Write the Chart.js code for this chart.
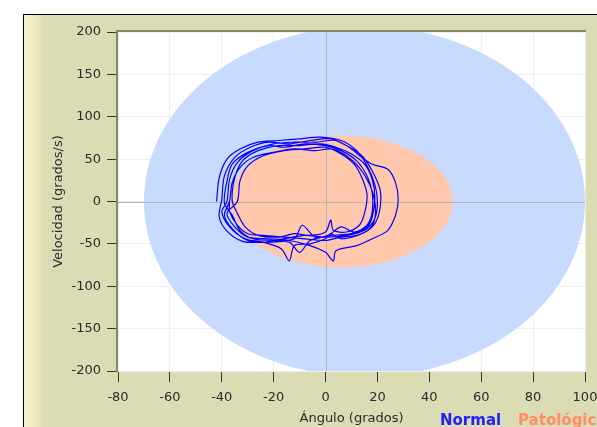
<!DOCTYPE html>
<html>
<head>
<meta charset="utf-8">
<script src="https://cdn.jsdelivr.net/npm/chart.js@4.4.1/dist/chart.umd.min.js"></script>
<style>
  html, body { margin: 0; padding: 0; background: #fff; overflow: hidden; width: 597px; height: 427px; }
  #frame {
    position: absolute; left: 23px; top: 14px; width: 640px; height: 440px;
    border-top: 1px solid #000; border-left: 1px solid #000;
    background: linear-gradient(to right, #f5f2ca 0px, #f1eec5 9px, #dcdcb4 20px, #dcdcb4 100%);
  }
  #chartBox { position: absolute; left: 0; top: 0; width: 600px; height: 412px; }
  .legend { position: absolute; top: 397px; font: bold 15px "DejaVu Sans"; line-height: 17px; white-space: nowrap; }
</style>
</head>
<body>
<div id="frame">
  <div id="chartBox"><canvas id="phaseChart"></canvas></div>
  <span class="legend" style="left:416px;color:#2121ff">Normal</span>
  <span class="legend" style="left:494px;color:#ff8d68">Patológico</span>
</div>
<script>
// axis ticks
const angleTicks = [-80, -60, -40, -20, 0, 20, 40, 60, 80, 100];
const velocityTicks = [-200, -150, -100, -50, 0, 50, 100, 150, 200];

// zones: centre [angle, velocity] and half widths [angle, velocity]
const normalCentre = [15, 0];
const normalRadii = [85, 207];
const patoCentre = [6, 0];
const patoRadii = [43, 78];

// measured trajectory (angle, velocity), one array per cycle
const loop1 = [[-42,0],[-41,28],[-38,50],[-33,62],[-26,70],[-18,72],[-10,74],[-2,76],[6,72],[12,60],[16,42],[19,20],[20,0],[19,-20],[15,-34],[8,-40],[0,-42],[-8,-40],[-16,-44],[-24,-48],[-32,-47],[-38,-35],[-41,-18]];
const loop2 = [[-40,2],[-39,30],[-35,52],[-29,64],[-22,70],[-14,68],[-6,72],[2,74],[8,66],[14,54],[18,36],[21,14],[21,-8],[19,-26],[14,-38],[6,-44],[2,-38],[0,-44],[-6,-50],[-12,-52],[-14,-70],[-17,-56],[-24,-48],[-31,-44],[-37,-30],[-40,-12]];
const loop3 = [[-38,0],[-37,26],[-34,46],[-28,60],[-20,68],[-12,70],[-4,70],[4,72],[10,62],[14,52],[18,44],[24,38],[27,22],[28,2],[27,-16],[24,-34],[18,-44],[12,-52],[4,-58],[3,-70],[0,-60],[-6,-52],[-14,-46],[-22,-44],[-30,-42],[-35,-30],[-38,-14]];
const loop4 = [[-34,0],[-33,24],[-30,42],[-24,54],[-16,60],[-8,62],[0,64],[6,56],[11,44],[14,28],[16,8],[15,-14],[13,-28],[8,-36],[3,-34],[2,-22],[0,-36],[-6,-40],[-12,-38],[-18,-42],[-26,-40],[-31,-30],[-34,-14]];
const loop5 = [[-36,1],[-35,28],[-32,48],[-26,60],[-18,66],[-10,66],[-2,68],[4,64],[10,56],[15,44],[18,26],[19,4],[18,-18],[16,-30],[10,-38],[2,-40],[-4,-42],[-9,-28],[-12,-44],[-20,-46],[-28,-44],[-33,-34],[-36,-16]];
const loop6 = [[-39,-2],[-38,24],[-36,44],[-30,58],[-22,66],[-16,64],[-8,68],[0,66],[6,60],[12,48],[16,30],[18,10],[18,-12],[16,-28],[11,-36],[6,-30],[1,-40],[-6,-46],[-10,-60],[-14,-48],[-22,-48],[-30,-46],[-36,-32],[-39,-16]];
const loop7 = [[-37,0],[-36,22],[-33,40],[-28,52],[-20,58],[-12,62],[-4,60],[2,62],[8,54],[13,40],[17,20],[19,0],[19,-20],[17,-32],[12,-40],[6,-42],[0,-46],[-8,-44],[-16,-42],[-24,-40],[-30,-38],[-34,-28],[-37,-12],[-37,0]];

const trace = [loop1, loop2, loop3, loop4, loop5, loop6, loop7].flat().map(([x, y]) => ({ x, y }));

function fillZone(chart, centre, radii, colour) {
  const { ctx, scales: { x, y } } = chart;
  const cx = x.getPixelForValue(centre[0]);
  const cy = y.getPixelForValue(centre[1]);
  const rx = Math.abs(x.getPixelForValue(centre[0] + radii[0]) - cx);
  const ry = Math.abs(y.getPixelForValue(centre[1] + radii[1]) - cy);
  ctx.fillStyle = colour;
  ctx.beginPath();
  ctx.ellipse(cx, cy, rx, ry, 0, 0, Math.PI * 2);
  ctx.fill();
}

const zonePlugin = {
  id: 'zones',
  beforeDraw(chart) {
    const a = chart.chartArea;
    chart.ctx.save();
    chart.ctx.fillStyle = '#ffffff';
    chart.ctx.fillRect(a.left, a.top, a.right - a.left, a.bottom - a.top);
    chart.ctx.restore();
  },
  beforeDatasetsDraw(chart) {
    const { ctx, chartArea: a, scales: { x, y } } = chart;
    ctx.save();
    ctx.beginPath();
    ctx.rect(a.left, a.top, a.right - a.left, a.bottom - a.top);
    ctx.clip();
    fillZone(chart, normalCentre, normalRadii, '#c8dbff');
    fillZone(chart, patoCentre, patoRadii, '#ffc8ad');
    // zero cross
    const x0 = Math.round(x.getPixelForValue(0)) + 0.5;
    const y0 = Math.round(y.getPixelForValue(0)) + 0.5;
    ctx.strokeStyle = '#b4b4b4';
    ctx.lineWidth = 1;
    ctx.beginPath();
    ctx.moveTo(x0, a.top); ctx.lineTo(x0, a.bottom);
    ctx.moveTo(a.left, y0); ctx.lineTo(a.right, y0);
    ctx.stroke();
    ctx.restore();
  },
  afterDatasetsDraw(chart) {
    const { ctx, chartArea: a } = chart;
    ctx.save();
    ctx.lineWidth = 1;
    ctx.strokeStyle = '#ececec';
    ctx.beginPath();
    ctx.moveTo(a.right + 0.5, a.top); ctx.lineTo(a.right + 0.5, a.bottom + 1);
    ctx.moveTo(a.left, a.bottom + 0.5); ctx.lineTo(a.right + 1, a.bottom + 0.5);
    ctx.stroke();
    ctx.lineWidth = 2;
    ctx.strokeStyle = '#86866a';
    ctx.beginPath();
    ctx.moveTo(a.left - 1, a.bottom + 1); ctx.lineTo(a.left - 1, a.top - 1); ctx.lineTo(a.right + 1, a.top - 1);
    ctx.stroke();
    ctx.restore();
  }
};

const tickFont = { family: 'DejaVu Sans', size: 13 };

new Chart(document.getElementById('phaseChart'), {
  type: 'scatter',
  data: {
    datasets: [{
      data: trace,
      showLine: true,
      borderColor: '#0000ff',
      borderWidth: 1.2,
      pointRadius: 0,
      tension: 0.3
    }]
  },
  options: {
    responsive: true,
    maintainAspectRatio: false,
    animation: false,
    layout: { padding: { top: 17, right: 39, left: 0, bottom: 0 } },
    plugins: { legend: { display: false }, tooltip: { enabled: false } },
    scales: {
      x: {
        min: -80, max: 100,
        afterBuildTicks: s => { s.ticks = angleTicks.map(v => ({ value: v })); },
        afterFit: s => { s.height = 56; },
        ticks: { font: tickFont, color: '#2a2a2a', padding: 8, maxRotation: 0 },
        grid: { color: '#efefef', tickColor: '#333', tickLength: 11 },
        border: { display: false },
        title: { display: true, text: 'Ángulo (grados)', font: tickFont, color: '#2a2a2a', padding: { top: 0, bottom: 1 } }
      },
      y: {
        min: -200, max: 200,
        afterBuildTicks: s => { s.ticks = velocityTicks.map(v => ({ value: v })); },
        afterFit: s => { s.width = 94; },
        ticks: { font: tickFont, color: '#2a2a2a', padding: 6 },
        grid: { color: '#efefef', tickColor: '#333', tickLength: 11 },
        border: { display: false },
        title: { display: true, text: 'Velocidad (grados/s)', font: tickFont, color: '#2a2a2a', padding: { top: 27, bottom: 0 } }
      }
    }
  },
  plugins: [zonePlugin]
});
</script>
</body>
</html>
